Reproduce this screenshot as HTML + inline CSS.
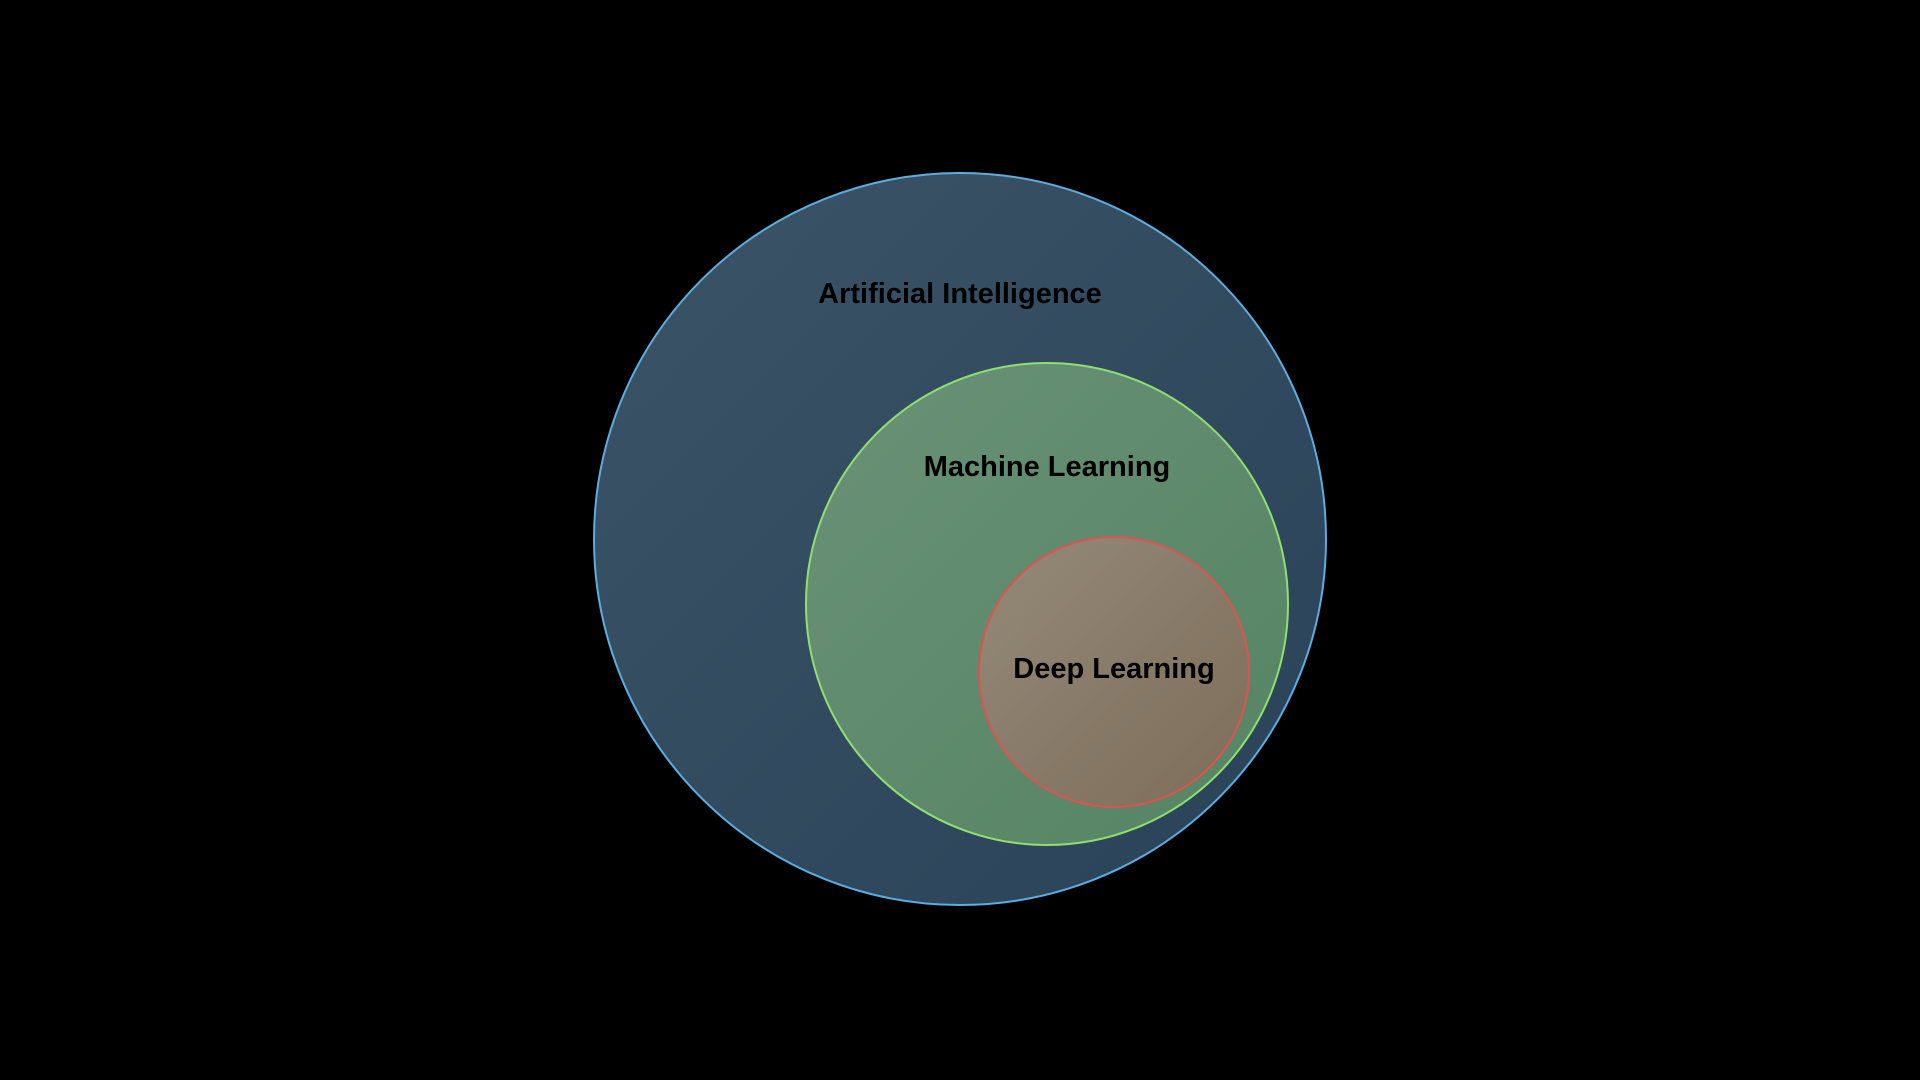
<!DOCTYPE html>
<html><head><meta charset="utf-8"><style>
html,body{margin:0;padding:0;background:#000;width:1920px;height:1080px;overflow:hidden}
</style></head><body>
<svg width="1920" height="1080" viewBox="0 0 1920 1080" xmlns="http://www.w3.org/2000/svg">
<defs>
<linearGradient id="g1" x1="0" y1="0" x2="1" y2="1">
<stop offset="0" stop-color="#3b5467"/><stop offset="1" stop-color="#2a4258"/></linearGradient>
<linearGradient id="g2" x1="0" y1="0" x2="1" y2="1">
<stop offset="0" stop-color="#6a9178"/><stop offset="1" stop-color="#558462"/></linearGradient>
<linearGradient id="g3" x1="0" y1="0" x2="1" y2="1">
<stop offset="0" stop-color="#948a78"/><stop offset="1" stop-color="#7e6c5a"/></linearGradient>
</defs>
<rect width="1920" height="1080" fill="#000"/>
<circle cx="960" cy="539" r="366" fill="url(#g1)" stroke="#5aaee0" stroke-width="2"/>
<circle cx="1047" cy="604" r="241" fill="url(#g2)" stroke="#8fe070" stroke-width="2"/>
<circle cx="1114" cy="672" r="135" fill="url(#g3)" stroke="#e05252" stroke-width="2"/>
<g font-family="Liberation Sans, sans-serif" font-weight="bold" font-size="29" fill="#000" text-anchor="middle">
<text x="960" y="303">Artificial Intelligence</text>
<text x="1047" y="476">Machine Learning</text>
<text x="1114" y="678">Deep Learning</text>
</g>
</svg>
</body></html>
